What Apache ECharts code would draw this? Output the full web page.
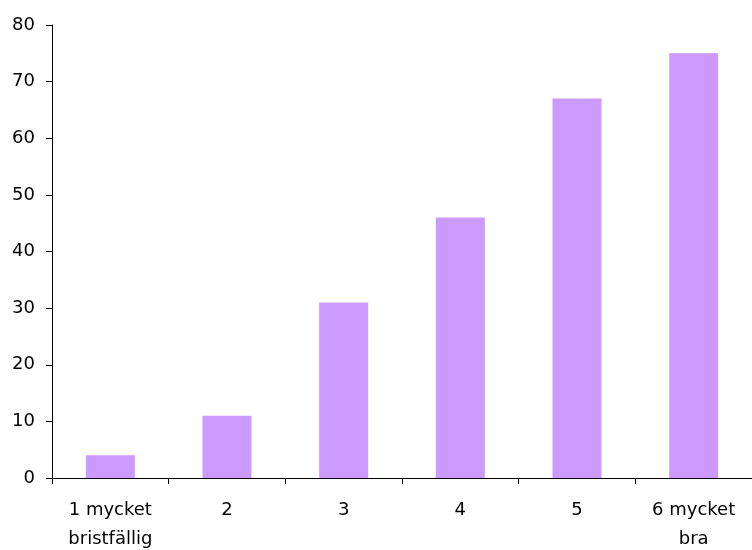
<!DOCTYPE html>
<html>
<head>
<meta charset="utf-8">
<script src="https://cdn.jsdelivr.net/npm/echarts@6/dist/echarts.min.js"></script>
<style>
  html, body { margin: 0; padding: 0; background: #fff; }
  #chart { width: 752px; height: 550px; }
</style>
</head>
<body>
<div id="chart"></div>
<script>
const categories = ['1 mycket\nbristfällig', '2', '3', '4', '5', '6 mycket\nbra'];
const values = [4, 11, 31, 46, 67, 75];
const yTicks = [0, 10, 20, 30, 40, 50, 60, 70, 80];

const FONT = '"DejaVu Sans", "Liberation Sans", Arial, sans-serif';
const chart = echarts.init(document.getElementById('chart'), null, { renderer: 'canvas' });
chart.setOption({
  animation: false,
  backgroundColor: '#ffffff',
  textStyle: { fontFamily: FONT },
  grid: { left: 52, right: 0, top: 25, bottom: 72, containLabel: false, outerBoundsMode: 'none' },
  xAxis: {
    type: 'category',
    data: categories,
    boundaryGap: true,
    axisLine: { show: true, lineStyle: { color: '#000', width: 1 } },
    axisTick: { show: true, length: 6, inside: false, alignWithLabel: false, lineStyle: { color: '#000' } },
    axisLabel: {
      color: '#000',
      fontSize: 18,
      lineHeight: 29,
      margin: 18,
      interval: 0,
      hideOverlap: false,
      fontFamily: FONT
    },
    splitLine: { show: false }
  },
  yAxis: {
    type: 'value',
    min: yTicks[0],
    max: yTicks[yTicks.length - 1],
    interval: 10,
    axisLine: { show: true, lineStyle: { color: '#000', width: 1 } },
    axisTick: { show: true, length: 6, inside: false, lineStyle: { color: '#000' } },
    axisLabel: {
      color: '#000',
      fontSize: 18,
      margin: 17,
      fontFamily: FONT
    },
    splitLine: { show: false }
  },
  series: [{
    type: 'bar',
    data: values,
    barWidth: '42%',
    itemStyle: { color: '#CC99FF' }
  }]
});
</script>
</body>
</html>
